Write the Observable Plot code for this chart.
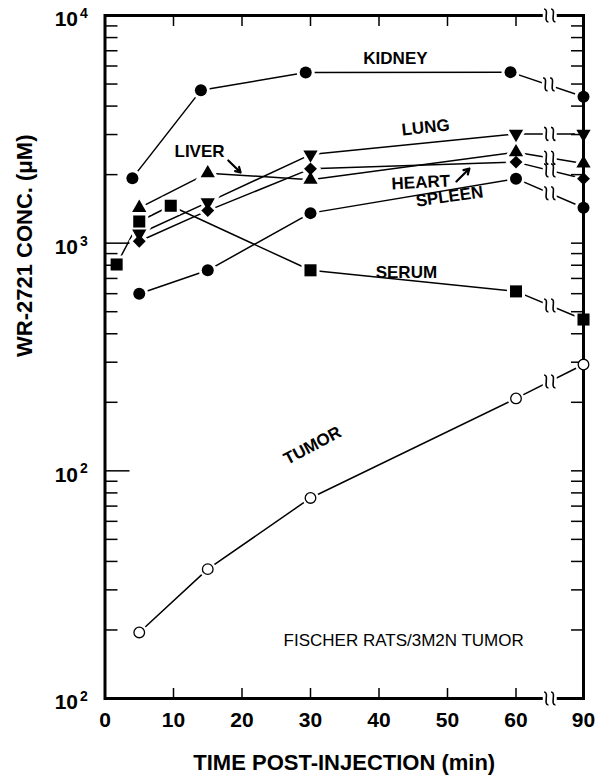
<!DOCTYPE html>
<html><head><meta charset="utf-8">
<script src="https://cdn.jsdelivr.net/npm/d3@7"></script>
<script src="https://cdn.jsdelivr.net/npm/@observablehq/plot@0.6"></script>
<style>body{margin:0;background:#fff}#chart svg{display:block}</style>
</head><body><div id="chart"></div>
<script>
// ---- data (time in min, concentration in µM) ----
const kidneyTime = [4, 14, 29.3, 59.2, 90];
const kidneyConc = [1930, 4690, 5620, 5640, 4400];
const lungTime = [5, 15, 30, 60, 90];
const lungConc = [1100, 1510, 2450, 3020, 3020];
const liverTime = [5, 15, 30, 60, 90];
const liverConc = [1430, 2030, 1900, 2510, 2240];
const heartTime = [5, 15, 30, 60, 90];
const heartConc = [1020, 1390, 2120, 2270, 1920];
const spleenTime = [5, 15, 30, 60, 90];
const spleenConc = [600, 760, 1355, 1920, 1430];
const serumTime = [1.7, 5, 9.6, 30, 60, 90];
const serumConc = [806, 1245, 1460, 760, 614, 462];
const tumorTime = [5, 15, 30, 60, 90];
const tumorConc = [19.5, 37, 76, 208, 293];

// ---- ticks ----
const xTickValues = [0, 10, 20, 30, 40, 50, 60, 90];
const xInnerTicks = [10, 20, 30, 40, 50, 60];
const yTickValues = [10, 100, 1000, 10000];
const yTickBase = "10";
const yTickExponents = ["2", "2", "3", "4"]; // as printed in the original figure
const yMinorTicks = [];
for (const d of [10, 100, 1000]) for (let k = 2; k <= 9; k++) yMinorTicks.push(k * d);

// ---- annotations ----
const labelText = ["KIDNEY", "LUNG", "LIVER", "HEART", "SPLEEN", "SERUM", "TUMOR"];
const labelTime = [42.4, 46.8, 13.8, 46.1, 50.3, 44.0, 30.3];
const labelConc = [6475, 3221, 2527, 1847, 1603, 743, 129];
const labelAngle = [0, -6, 0, -3, -8, 0, -28];
const noteText = "FISCHER RATS/3M2N TUMOR";
const noteTime = 43.6, noteConc = 18.0;
const arrowTime1 = [18.0, 51.3], arrowConc1 = [2307, 1866];
const arrowTime2 = [19.8, 53.2], arrowConc2 = [2044, 2128];
const xTitle = "TIME POST-INJECTION (min)";
const yTitle = "WR-2721 CONC. (\u03BCM)";
const axisBreakTime = 75;

const FONT = '"Liberation Sans", Arial, Helvetica, sans-serif';

const series = [
  {name: "kidney", time: kidneyTime, conc: kidneyConc, symbol: "circle", r: 6, rotate: 0, open: false},
  {name: "lung", time: lungTime, conc: lungConc, symbol: "triangle", r: 5.3, rotate: 180, open: false},
  {name: "liver", time: liverTime, conc: liverConc, symbol: "triangle", r: 5.3, rotate: 0, open: false},
  {name: "heart", time: heartTime, conc: heartConc, symbol: "diamond2", r: 5.8, rotate: 0, open: false},
  {name: "spleen", time: spleenTime, conc: spleenConc, symbol: "circle", r: 6, rotate: 0, open: false},
  {name: "serum", time: serumTime, conc: serumConc, symbol: "square", r: 6.8, rotate: 0, open: false},
  {name: "tumor", time: tumorTime, conc: tumorConc, symbol: "circle", r: 5.3, rotate: 0, open: true}
];

const rows = series.flatMap(s => s.time.map((t, i) => ({series: s.name, t, c: s.conc[i]})));
// break glyph position on the last (60 -> 90 min) segment of each series
const breakRows = series.map(s => {
  const n = s.time.length;
  return {t: (s.time[n - 2] + s.time[n - 1]) / 2, c: Math.sqrt(s.conc[n - 2] * s.conc[n - 1])};
});
const frameBreaks = [{t: axisBreakTime, c: 10000}, {t: axisBreakTime, c: 10}];

const squiggle = {draw(ctx) {
  for (const x0 of [-3.5, 3.5]) {
    ctx.moveTo(x0 - 2.2, -6.5);
    ctx.bezierCurveTo(x0 + 3.5, -6.5, x0 - 3.5, 6.5, x0 + 2.2, 6.5);
  }
}};
const gap = {draw(ctx) { ctx.rect(-7, -4.5, 14, 9); }};

const labels = labelText.map((text, i) => ({text, t: labelTime[i], c: labelConc[i], a: labelAngle[i]}));
const arrows = arrowTime1.map((t, i) => ({t1: t, c1: arrowConc1[i], t2: arrowTime2[i], c2: arrowConc2[i]}));
const yExp = yTickValues.map((v, i) => ({v, e: yTickExponents[i]}));

const chart = Plot.plot({
  width: 600,
  height: 779,
  marginLeft: 104.5,
  marginRight: 17,
  marginTop: 15,
  marginBottom: 81,
  style: {fontFamily: FONT, background: "#fff", color: "#000"},
  x: {type: "linear", domain: [0, 60, 90], range: [104.5, 515.5, 583], axis: null},
  y: {type: "log", domain: [10, 10000], axis: null},
  marks: [
    Plot.line(rows, {x: "t", y: "c", z: "series", stroke: "black", strokeWidth: 1.5}),
    ...series.map(s => Plot.dot(rows.filter(d => d.series === s.name), {
      x: "t", y: "c", symbol: s.symbol, r: s.r, rotate: s.rotate,
      fill: "white", stroke: "white", strokeWidth: 6
    })),
    Plot.frame({stroke: "black", strokeWidth: 3}),
    Plot.axisY(yMinorTicks, {anchor: "left", tickSize: -13, fill: "none", label: null, strokeWidth: 1.5}),
    Plot.axisY([1000, 100], {anchor: "left", tickSize: -25, fill: "none", label: null, strokeWidth: 1.5}),
    Plot.axisY(yMinorTicks.concat([100, 1000]), {anchor: "right", tickSize: -13, fill: "none", label: null, strokeWidth: 1.5}),
    Plot.axisX(xInnerTicks, {anchor: "top", tickSize: -10, fill: "none", label: null, strokeWidth: 1.5}),
    Plot.axisX(xInnerTicks, {anchor: "bottom", tickSize: -10, fill: "none", label: null, strokeWidth: 1.5}),
    Plot.axisY(yTickValues, {anchor: "left", tickSize: 0, tickPadding: 27, tickFormat: () => yTickBase,
      dy: 4, fontSize: 21, fontWeight: "bold", label: null}),
    Plot.text(yExp, {y: "v", frameAnchor: "left", text: "e", textAnchor: "start", dx: -25, dy: -2,
      fontSize: 14, fontWeight: "bold", fill: "black"}),
    Plot.axisX(xTickValues, {anchor: "bottom", tickSize: 0, tickPadding: 14, tickFormat: d => String(d),
      fontSize: 21, fontWeight: "bold", label: null}),
    Plot.dot(breakRows.concat(frameBreaks), {x: "t", y: "c", symbol: gap, r: 5, fill: "white", stroke: "none"}),
    Plot.dot(breakRows.concat(frameBreaks), {x: "t", y: "c", symbol: squiggle, r: 5, fill: "none", stroke: "black", strokeWidth: 1.6}),
    ...series.map(s => Plot.dot(rows.filter(d => d.series === s.name), {
      x: "t", y: "c", symbol: s.symbol, r: s.r, rotate: s.rotate,
      fill: s.open ? "white" : "black", stroke: s.open ? "black" : "none", strokeWidth: 1.3
    })),
    Plot.text(labels, {x: "t", y: "c", text: "text", rotate: "a", fontSize: 17, fontWeight: "bold", fill: "black"}),
    Plot.arrow(arrows, {x1: "t1", y1: "c1", x2: "t2", y2: "c2", stroke: "black", strokeWidth: 2.2, headLength: 7}),
    Plot.text([noteText], {x: noteTime, y: noteConc, text: d => d, fontSize: 17, fill: "black"}),
    Plot.text([xTitle], {frameAnchor: "bottom", dy: 71, text: d => d, fontSize: 22, fontWeight: "bold", fill: "black"}),
    Plot.text([yTitle], {frameAnchor: "left", dx: -80, rotate: -90, text: d => d, fontSize: 22, fontWeight: "bold", fill: "black"})
  ]
});
document.getElementById("chart").appendChild(chart);
</script>
</body></html>
